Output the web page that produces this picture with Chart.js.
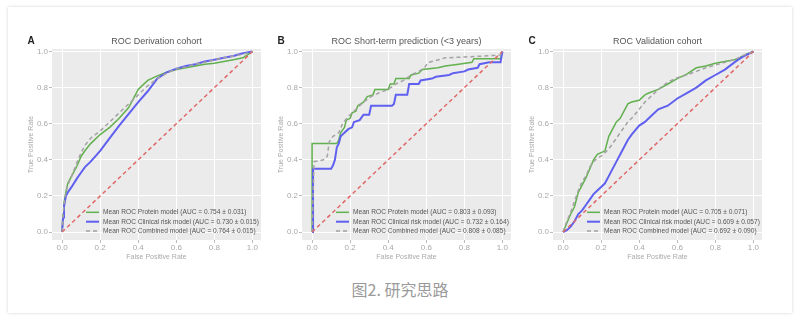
<!DOCTYPE html>
<html>
<head>
<meta charset="utf-8">
<script src="https://cdn.jsdelivr.net/npm/chart.js@4.4.0/dist/chart.umd.min.js"></script>
<style>
  html, body { margin: 0; padding: 0; background: #fff; width: 800px; height: 321px; overflow: hidden; }
  #card { position: absolute; left: 8px; top: 7px; width: 784px; height: 306px; background: #fff;
          box-shadow: 0 0 3px rgba(0,0,0,0.18); }
  .panel { position: absolute; top: 0; width: 270px; height: 270px; }
  #caption { position: absolute; left: 0; top: 277px; width: 800px; text-align: center;
             font: 16px "Noto Sans CJK SC", sans-serif; color: #9a9a9a; }
</style>
</head>
<body>
<div id="card"></div>
<div class="panel" style="left:0px"><canvas id="chart-a" width="270" height="270"></canvas></div>
<div class="panel" style="left:250px"><canvas id="chart-b" width="270" height="270"></canvas></div>
<div class="panel" style="left:501px"><canvas id="chart-c" width="270" height="270"></canvas></div>
<div id="caption">图2. 研究思路</div>

<script>
const FONT = "'Liberation Sans', Arial, sans-serif";
const tickValues = [0, 0.2, 0.4, 0.6, 0.8, 1.0];
const chanceX = [0, 1];
const chanceY = [0, 1];

// Panel A: derivation cohort
const fprA = [0, 0.005, 0.01, 0.02, 0.03, 0.05, 0.08, 0.1, 0.12, 0.15, 0.2, 0.25, 0.3, 0.35, 0.4, 0.45, 0.5, 0.55, 0.6, 0.65, 0.7, 0.75, 0.8, 0.85, 0.9, 0.95, 1.0];
const proteinA  = [0, 0.10, 0.16, 0.22, 0.27, 0.31, 0.37, 0.42, 0.45, 0.49, 0.54, 0.58, 0.63, 0.69, 0.79, 0.84, 0.865, 0.885, 0.90, 0.91, 0.92, 0.93, 0.935, 0.945, 0.955, 0.965, 1.0];
const clinicalA = [0, 0.08, 0.14, 0.20, 0.22, 0.25, 0.30, 0.33, 0.36, 0.39, 0.45, 0.52, 0.59, 0.655, 0.72, 0.78, 0.85, 0.885, 0.905, 0.92, 0.93, 0.945, 0.955, 0.965, 0.975, 0.99, 1.0];
const combinedA = [0, 0.09, 0.15, 0.22, 0.26, 0.31, 0.39, 0.44, 0.48, 0.52, 0.56, 0.61, 0.66, 0.71, 0.76, 0.81, 0.85, 0.88, 0.905, 0.915, 0.93, 0.94, 0.955, 0.965, 0.975, 0.985, 1.0];
const aucA = ["0.754 ± 0.031", "0.730 ± 0.015", "0.764 ± 0.015"];

// Panel B: short-term prediction (step curves)
const proteinBx = [0, 0, 0.13, 0.14, 0.15, 0.17, 0.18, 0.2, 0.21, 0.23, 0.24, 0.27, 0.29, 0.32, 0.33, 0.40, 0.41, 0.43, 0.44, 0.51, 0.52, 0.56, 0.58, 0.66, 0.70, 0.77, 0.84, 0.85, 0.99, 1.0];
const proteinBy = [0, 0.49, 0.49, 0.51, 0.55, 0.58, 0.62, 0.63, 0.66, 0.67, 0.70, 0.72, 0.75, 0.76, 0.79, 0.79, 0.82, 0.82, 0.85, 0.85, 0.87, 0.88, 0.90, 0.91, 0.92, 0.93, 0.94, 0.96, 0.96, 1.0];
const clinicalBx = [0, 0.005, 0.005, 0.10, 0.11, 0.12, 0.13, 0.14, 0.15, 0.17, 0.19, 0.21, 0.22, 0.25, 0.27, 0.30, 0.31, 0.42, 0.43, 0.44, 0.50, 0.51, 0.56, 0.57, 0.63, 0.65, 0.72, 0.74, 0.80, 0.82, 0.87, 0.88, 0.93, 0.99, 1.0];
const clinicalBy = [0, 0, 0.35, 0.35, 0.37, 0.40, 0.47, 0.49, 0.53, 0.55, 0.57, 0.58, 0.61, 0.62, 0.65, 0.65, 0.70, 0.70, 0.71, 0.76, 0.76, 0.82, 0.82, 0.84, 0.85, 0.86, 0.87, 0.88, 0.89, 0.90, 0.91, 0.93, 0.94, 0.94, 1.0];
const combinedBx = [0, 0.01, 0.06, 0.08, 0.09, 0.11, 0.14, 0.16, 0.19, 0.21, 0.24, 0.27, 0.31, 0.35, 0.40, 0.44, 0.48, 0.52, 0.56, 0.59, 0.61, 0.65, 0.70, 0.80, 0.90, 0.99, 1.0];
const combinedBy = [0, 0.39, 0.40, 0.42, 0.50, 0.53, 0.55, 0.60, 0.64, 0.66, 0.69, 0.72, 0.75, 0.77, 0.79, 0.82, 0.84, 0.87, 0.89, 0.91, 0.94, 0.95, 0.965, 0.97, 0.975, 0.98, 1.0];
const aucB = ["0.803 ± 0.093", "0.732 ± 0.164", "0.808 ± 0.085"];

// Panel C: validation cohort
const fprC = [0, 0.02, 0.04, 0.06, 0.08, 0.1, 0.12, 0.14, 0.16, 0.18, 0.2, 0.22, 0.24, 0.26, 0.28, 0.3, 0.32, 0.34, 0.36, 0.4, 0.43, 0.45, 0.5, 0.55, 0.6, 0.65, 0.7, 0.75, 0.8, 0.85, 0.9, 0.92, 0.95, 1.0];
const proteinC  = [0, 0.05, 0.10, 0.14, 0.22, 0.26, 0.30, 0.35, 0.40, 0.43, 0.44, 0.45, 0.53, 0.57, 0.61, 0.63, 0.67, 0.71, 0.72, 0.73, 0.76, 0.77, 0.79, 0.82, 0.85, 0.875, 0.91, 0.92, 0.935, 0.945, 0.955, 0.96, 0.98, 1.0];
const clinicalC = [0, 0.01, 0.03, 0.06, 0.10, 0.12, 0.15, 0.18, 0.21, 0.23, 0.25, 0.27, 0.31, 0.35, 0.39, 0.43, 0.47, 0.51, 0.54, 0.59, 0.61, 0.63, 0.68, 0.70, 0.74, 0.77, 0.80, 0.84, 0.87, 0.90, 0.94, 0.955, 0.975, 1.0];
const combinedC = [0, 0.06, 0.11, 0.17, 0.23, 0.28, 0.31, 0.36, 0.39, 0.41, 0.42, 0.44, 0.46, 0.49, 0.52, 0.55, 0.58, 0.61, 0.63, 0.68, 0.72, 0.74, 0.79, 0.83, 0.855, 0.87, 0.89, 0.91, 0.925, 0.94, 0.955, 0.965, 0.98, 1.0];
const aucC = ["0.705 ± 0.071", "0.609 ± 0.057", "0.692 ± 0.090"];

const modelNames = ["Mean ROC Protein model", "Mean ROC Clinical risk model", "Mean ROC Combined model"];

function pts(xs, ys) {
  return xs.map((x, i) => ({ x: x, y: ys[i] }));
}

function modelSets(curves, aucs) {
  const styles = [
    { borderColor: "#62b04f", borderWidth: 1.5, borderDash: [] },
    { borderColor: "#6060f0", borderWidth: 2, borderDash: [] },
    { borderColor: "#a3a3a3", borderWidth: 1.5, borderDash: [4, 3] },
  ];
  const sets = curves.map((c, i) => Object.assign({
    label: `${modelNames[i]} (AUC = ${aucs[i]})`,
    data: pts(c[0], c[1]),
    showLine: true, pointRadius: 0, tension: 0, order: 3 - i,
  }, styles[i]));
  sets.push({
    label: "", data: pts(chanceX, chanceY), showLine: true, pointRadius: 0,
    borderColor: "#e06868", borderWidth: 1.5, borderDash: [4, 3], order: 0,
  });
  return sets;
}

// grey ggplot-style panel behind the grid
const plotBg = {
  id: "plotBg",
  beforeDraw(chart) {
    const { ctx, chartArea: a } = chart;
    ctx.save();
    ctx.fillStyle = "#ebebeb";
    ctx.fillRect(a.left, a.top, a.right - a.left, a.bottom - a.top);
    ctx.restore();
  },
};

// title, panel letter and in-plot legend
const panelText = {
  id: "panelText",
  afterDraw(chart, args, opts) {
    const { ctx, chartArea: a } = chart;
    ctx.save();
    ctx.textBaseline = "middle";
    ctx.fillStyle = "#555";
    ctx.font = `9px ${FONT}`;
    ctx.textAlign = "center";
    ctx.fillText(opts.title, (a.left + a.right) / 2, a.top - 7.3);
    ctx.fillStyle = "#222";
    ctx.font = `bold 10px ${FONT}`;
    ctx.textAlign = "left";
    ctx.fillText(opts.letter, a.left - 24.5, a.top - 7.8);

    const rows = [27.7, 18.3, 9];
    chart.data.datasets.slice(0, 3).forEach((ds, i) => {
      const y = a.bottom - rows[i];
      ctx.strokeStyle = ds.borderColor;
      ctx.lineWidth = ds.borderWidth;
      ctx.setLineDash(ds.borderDash);
      ctx.beginPath();
      ctx.moveTo(a.left + 34, y);
      ctx.lineTo(a.left + 47, y);
      ctx.stroke();
      ctx.setLineDash([]);
      ctx.fillStyle = "#555";
      ctx.font = `6.6px ${FONT}`;
      ctx.fillText(ds.label, a.left + 51, y);
    });
    ctx.restore();
  },
};

function axis(min, max, titleText, isX) {
  return {
    type: "linear", min: min, max: max,
    afterBuildTicks: (s) => { s.ticks = tickValues.map((v) => ({ value: v })); },
    afterFit: (s) => { if (isX) s.height = 30; else s.width = 52; },
    grid: { color: "#fff", lineWidth: 1, tickLength: 3, tickColor: "#bbb" },
    border: { display: false },
    ticks: {
      font: { size: 8, family: FONT }, color: "#a8a8a8", padding: isX ? 0 : 1,
      autoSkip: false, maxRotation: 0,
      callback: (v) => Number(v).toFixed(1),
    },
    title: {
      display: true, text: titleText, color: "#aaa",
      font: { size: 7, family: FONT },
      padding: isX ? { top: 0, bottom: 8.8 } : { top: 26.8, bottom: 0 },
    },
  };
}

function makeChart(id, letter, title, curves, aucs) {
  return new Chart(document.getElementById(id), {
    type: "scatter",
    data: { datasets: modelSets(curves, aucs) },
    options: {
      responsive: false, animation: false, events: [],
      layout: { padding: { left: 0, top: 49, right: 9, bottom: 0 } },
      plugins: {
        legend: { display: false }, tooltip: { enabled: false },
        panelText: { letter: letter, title: title },
      },
      scales: {
        x: axis(-0.053, 1.045, "False Positive Rate", true),
        y: axis(-0.044, 1.014, "True Positive Rate", false),
      },
    },
    plugins: [plotBg, panelText],
  });
}

makeChart("chart-a", "A", "ROC Derivation cohort",
  [[fprA, proteinA], [fprA, clinicalA], [fprA, combinedA]], aucA);
makeChart("chart-b", "B", "ROC Short-term prediction (<3 years)",
  [[proteinBx, proteinBy], [clinicalBx, clinicalBy], [combinedBx, combinedBy]], aucB);
makeChart("chart-c", "C", "ROC Validation cohort",
  [[fprC, proteinC], [fprC, clinicalC], [fprC, combinedC]], aucC);
</script>
</body>
</html>
